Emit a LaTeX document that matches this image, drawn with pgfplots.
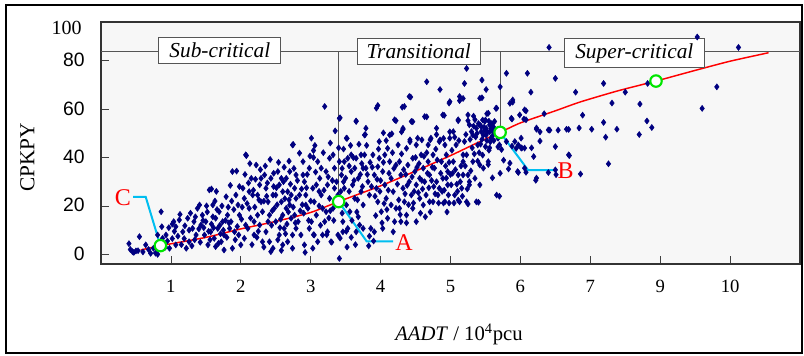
\documentclass[border=0pt]{standalone}
\usepackage{pgfplots}
\pgfplotsset{compat=1.18}
\usepackage{fontspec}
\setmainfont{Liberation Serif}
\newfontfamily\sansf{Liberation Sans}
\definecolor{navyc}{RGB}{0,0,128}
\definecolor{cyanl}{RGB}{0,190,240}
\definecolor{limeg}{RGB}{0,230,0}
\definecolor{bggray}{RGB}{247,247,247}
\definecolor{lgray}{RGB}{85,85,85}
\begin{document}
\begin{tikzpicture}
\useasboundingbox (0,0) rectangle (603pt,266.25pt);
\begin{axis}[
  at={(75.75pt,68.25pt)}, anchor=south west,
  scale only axis, width=524.25pt, height=181.5pt,
  xmin=0, xmax=10, ymin=-4, ymax=96,
  xtick={1,2,3,4,5,6,7,8,9}, xticklabels={1,2,3,4,5,6,7,9,10},
  ytick={0,20,40,60,80}, yticklabels={0,20,40,60,80},
  xtick pos=bottom, ytick pos=left,
  tick align=inside, major tick length=6pt,
  tick style={black!75, line width=0.6pt},
  axis line style={black!80, line width=0.8pt},
  axis background/.style={fill=bggray},
  xticklabel style={font=\fontsize{14}{16}\selectfont, anchor=north, inner sep=0pt, yshift=-12pt},
  yticklabel style={font=\sansf\fontsize{14.5}{16}\selectfont, anchor=east, inner sep=0pt, xshift=-12pt, yshift=0.5pt},
  clip=false,
]
\addplot[only marks, mark=diamond*, mark size=2.25pt, color=navyc] table {
x y
0.45 1.1
0.50 1.4
0.55 7.3
0.64 3.9
0.71 0.4
0.81 0.0
0.86 17.6
0.81 8.0
0.88 6.6
0.42 2.0
0.60 1.0
0.75 2.5
0.40 4.4
0.47 0.8
0.53 1.5
0.68 2.0
0.78 0.5
0.92 3.0
0.87 11.4
1.02 12.5
0.93 8.0
1.04 13.5
1.07 11.4
1.12 14.2
1.17 9.3
1.24 14.9
1.26 5.2
1.31 10.7
1.36 8.0
0.98 2.5
1.07 3.9
1.22 2.5
1.38 19.0
1.26 10.0
1.33 13.5
0.95 5.5
1.02 6.5
1.15 4.0
1.10 7.5
1.20 11.8
1.30 3.5
1.34 6.0
1.05 9.5
0.97 11.0
1.41 20.4
1.45 16.2
1.50 13.5
1.55 26.6
1.57 9.3
1.60 20.4
1.62 6.6
1.64 14.9
1.67 10.7
1.69 17.6
1.72 5.2
1.74 13.5
1.76 8.0
1.79 23.8
1.81 16.2
1.84 10.7
1.48 8.0
1.53 3.9
1.64 3.2
1.76 1.8
1.43 12.1
1.60 15.5
1.47 11.0
1.52 17.5
1.58 12.5
1.66 18.5
1.70 12.0
1.73 20.0
1.78 14.0
1.82 19.5
1.56 6.0
1.68 4.5
1.80 7.0
1.42 5.0
1.63 22.0
1.75 10.0
1.58 27.0
1.94 34.4
2.08 40.8
1.88 34.2
1.93 24.5
1.96 20.4
1.98 16.2
2.03 27.3
2.05 23.1
2.07 41.1
2.07 12.1
2.12 19.0
2.15 31.4
2.17 24.5
2.19 8.0
2.22 36.9
2.24 16.2
2.27 28.7
2.29 21.7
2.31 5.2
1.86 13.5
1.91 9.3
2.00 3.9
2.10 10.7
2.19 13.5
2.24 24.5
2.29 31.4
2.31 17.6
1.98 28.0
2.12 25.9
2.27 12.1
1.88 2.5
2.05 6.6
1.90 18.5
2.01 14.5
2.09 21.0
2.14 15.0
2.20 19.5
2.26 22.5
1.95 11.5
2.11 29.5
2.18 26.5
2.02 19.5
2.25 9.5
2.16 4.0
1.92 6.0
2.33 3.0
2.58 1.6
2.34 32.8
2.36 27.3
2.39 21.7
2.41 16.2
2.43 31.4
2.46 24.5
2.48 19.0
2.50 13.5
2.53 34.2
2.55 28.7
2.58 21.7
2.60 16.2
2.62 10.7
2.65 31.4
2.67 25.9
2.70 20.4
2.72 14.9
2.74 45.2
2.74 8.0
2.77 27.3
2.79 23.1
2.36 9.3
2.41 5.2
2.46 2.5
2.55 8.0
2.60 3.9
2.67 5.2
2.72 24.5
2.79 32.8
2.50 24.5
2.60 25.9
2.70 34.2
2.77 16.2
2.39 13.5
2.58 31.4
2.65 19.0
2.79 10.7
2.43 1.1
2.74 2.5
2.33 22.0
2.38 29.5
2.45 18.0
2.52 20.5
2.57 14.5
2.63 23.0
2.68 17.5
2.75 19.5
2.44 12.0
2.56 11.0
2.66 12.5
2.35 36.5
2.62 36.0
2.42 39.2
2.51 27.5
2.71 29.0
2.78 13.0
2.84 41.8
2.89 38.3
2.91 30.0
2.93 24.5
2.96 19.0
2.98 35.6
3.01 48.0
3.03 27.3
3.05 21.7
3.08 16.2
3.10 38.3
3.13 31.4
3.15 24.5
3.17 19.0
3.20 13.5
3.22 34.2
3.24 28.7
3.27 23.1
2.82 13.5
2.86 8.0
2.91 3.9
2.98 10.7
3.05 8.0
3.10 5.2
3.20 61.1
3.24 9.3
2.89 32.8
3.01 13.5
3.15 35.6
3.22 17.6
3.08 28.7
2.93 20.4
3.27 39.7
2.84 24.5
3.17 8.0
3.03 2.5
2.87 27.0
2.95 33.0
3.00 22.0
3.07 34.0
3.12 20.0
3.19 26.5
3.25 32.0
2.90 17.0
3.04 40.0
3.14 12.0
3.26 15.0
2.97 14.0
2.99 40.6
3.04 42.9
2.75 45.4
2.92 0.8
3.04 8.1
3.23 8.1
3.30 5.0
3.32 41.1
3.34 35.6
3.37 30.0
3.39 24.5
3.41 56.2
3.41 38.3
3.44 32.8
3.46 13.5
3.48 27.3
3.51 48.0
3.51 20.4
3.53 39.7
3.56 17.6
3.58 34.2
3.60 28.7
3.63 23.1
3.65 54.9
3.65 39.7
3.68 31.4
3.70 12.1
3.72 25.9
3.75 35.6
3.29 5.2
3.39 8.0
3.41 -1.7
3.46 9.3
3.53 10.7
3.68 15.5
3.75 20.4
3.32 19.0
3.58 41.1
3.77 49.3
3.34 27.3
3.48 38.3
3.63 35.6
3.72 41.1
3.75 10.7
3.65 9.3
3.31 30.5
3.36 22.0
3.43 26.0
3.47 43.5
3.50 31.5
3.55 26.0
3.57 45.0
3.62 30.5
3.67 22.5
3.71 33.0
3.33 14.0
3.45 17.0
3.59 14.0
3.74 28.0
3.40 44.0
3.66 17.5
3.52 3.0
3.42 6.7
3.51 9.5
3.77 41.1
3.79 35.6
3.82 30.0
3.84 24.5
3.86 10.7
3.89 41.1
3.91 32.8
3.94 60.4
3.94 27.3
3.96 21.7
3.98 39.7
4.01 17.6
4.03 34.2
4.06 28.7
4.08 23.1
4.10 14.9
4.13 49.3
4.13 38.3
4.15 31.4
4.18 25.9
4.20 55.6
4.22 19.0
3.84 7.5
3.91 9.3
4.03 10.7
4.18 9.3
3.79 52.1
3.98 46.6
4.10 43.8
4.22 36.9
3.92 24.0
4.06 41.1
4.20 13.5
3.96 36.2
4.15 20.4
3.80 45.0
3.87 28.0
3.93 16.0
4.00 30.5
4.05 21.0
4.12 33.5
4.17 42.0
3.97 43.5
4.08 47.0
3.85 38.0
4.02 13.0
4.09 18.5
4.28 16.4
4.37 13.0
4.47 21.2
4.25 45.2
4.27 38.3
4.29 32.8
4.32 27.3
4.34 61.1
4.34 21.7
4.37 43.8
4.39 36.9
4.41 30.0
4.44 54.9
4.44 24.5
4.46 39.7
4.49 34.2
4.51 28.7
4.53 48.0
4.56 23.1
4.58 41.1
4.61 35.6
4.63 56.9
4.63 30.0
4.65 24.5
4.68 45.2
4.70 32.8
4.27 19.0
4.37 16.2
4.46 19.0
4.61 20.4
4.70 21.7
4.32 52.1
4.51 45.2
4.68 38.3
4.41 65.2
4.56 31.4
4.29 13.5
4.51 13.5
4.30 41.5
4.36 33.0
4.42 46.5
4.48 26.0
4.55 37.5
4.60 27.0
4.66 42.0
4.40 20.5
4.57 17.0
4.64 15.5
4.35 25.0
4.50 40.0
4.69 27.5
4.72 48.0
4.75 41.1
4.77 35.6
4.80 30.0
4.82 24.5
4.84 46.6
4.87 38.3
4.89 57.6
4.89 31.4
4.92 21.7
4.94 41.1
4.96 34.2
4.99 63.1
4.99 48.0
5.01 28.7
5.04 38.3
5.06 24.5
5.08 45.2
5.11 55.6
5.11 32.8
5.13 65.2
5.16 27.3
5.18 41.1
4.75 21.7
5.11 22.4
5.18 32.8
4.80 52.1
4.92 45.2
5.04 50.7
5.18 38.3
5.13 21.7
4.84 27.3
4.96 28.7
4.74 36.0
4.79 43.5
4.86 33.5
4.91 26.5
4.98 38.0
5.03 33.5
5.09 29.0
5.15 36.5
4.76 28.0
5.02 43.0
5.12 47.0
4.94 31.5
5.20 46.6
5.23 41.1
5.25 32.8
5.27 53.5
5.27 28.7
5.30 50.7
5.32 38.3
5.35 55.6
5.37 52.1
5.39 45.2
5.42 64.5
5.42 36.9
5.44 52.8
5.47 49.3
5.49 54.9
5.51 52.1
5.54 58.3
5.56 53.5
5.58 48.0
5.61 50.7
5.63 54.9
5.66 60.4
5.23 21.7
5.37 21.7
5.27 30.0
5.35 31.4
5.47 35.6
5.54 38.3
5.42 28.7
5.66 24.5
5.25 57.6
5.32 49.3
5.44 50.7
5.49 51.4
5.56 50.7
5.58 52.1
5.42 53.5
5.51 49.3
5.61 52.8
5.38 50.0
5.40 54.0
5.45 47.5
5.48 52.5
5.50 55.5
5.52 47.0
5.53 50.5
5.55 55.0
5.57 46.5
5.59 54.0
5.60 49.0
5.62 47.0
5.64 51.5
5.46 55.5
5.36 48.5
5.33 53.0
5.28 47.5
5.22 49.5
5.41 42.0
5.55 43.0
5.50 44.5
5.68 48.0
5.70 45.2
5.75 49.3
5.80 46.6
5.85 62.4
5.87 56.2
5.89 63.8
5.92 46.6
5.94 43.8
5.96 34.2
6.01 48.0
6.06 35.6
6.06 59.7
6.08 55.6
5.99 57.6
5.23 76.8
4.66 71.3
5.20 70.6
5.45 72.0
4.85 68.1
5.51 68.1
5.80 74.8
6.10 74.8
6.50 72.7
6.15 67.0
6.79 67.0
6.41 85.5
4.43 65.0
5.13 63.5
5.18 64.4
5.45 64.7
5.71 69.2
4.98 62.5
4.31 60.8
3.96 61.5
5.89 62.9
6.08 59.3
5.65 60.3
5.52 58.1
5.33 57.1
4.91 57.4
4.66 56.8
4.22 55.2
4.46 54.8
5.11 55.2
5.25 55.2
3.65 55.1
3.42 56.4
5.88 55.9
6.05 55.9
6.34 58.1
4.32 51.6
4.30 50.6
4.04 50.2
4.16 49.8
3.78 49.5
3.52 47.9
4.80 49.5
4.90 47.9
4.99 50.6
5.06 48.4
6.23 51.7
6.28 50.6
6.42 51.3
6.54 51.3
6.69 51.6
6.28 46.8
6.84 52.2
4.42 47.3
4.59 47.3
4.71 47.3
4.85 47.3
8.53 89.8
9.12 85.5
7.19 70.6
7.50 67.0
7.82 70.6
8.81 69.2
7.31 62.5
7.71 62.1
8.60 60.3
6.89 57.5
7.19 54.5
7.02 51.7
7.38 51.7
7.81 55.1
7.88 52.4
7.22 48.4
7.70 49.5
7.26 37.4
6.86 33.2
6.69 41.1
6.50 44.5
6.40 51.4
6.66 51.7
6.23 52.2
5.97 45.2
6.02 43.9
6.06 43.9
6.19 40.4
5.85 37.7
5.97 33.8
6.50 34.9
6.40 33.8
6.23 31.5
5.71 33.5
5.56 44.0
5.68 44.4
5.73 43.3
5.88 44.7
6.01 44.0
6.16 44.0
6.70 40.8
5.76 38.9
5.54 37.1
5.83 35.3
6.08 33.9
6.22 30.6
6.51 32.9
5.60 31.6
5.70 24.0
5.40 21.5
5.25 20.8
4.83 21.2
4.90 21.2
4.98 21.2
5.05 21.2
1.13 16.5
1.28 17.0
1.35 15.5
1.46 14.0
1.54 9.5
1.61 11.0
1.71 8.5
1.83 13.0
1.87 22.0
1.97 8.0
1.19 6.5
1.40 10.5
1.51 20.0
1.65 26.0
1.85 28.5
2.06 33.0
2.13 37.5
2.21 31.0
2.28 35.0
2.37 24.0
2.47 33.5
2.54 38.0
2.61 30.0
2.69 38.5
2.76 35.5
2.81 30.5
2.88 20.5
2.94 27.5
2.23 7.0
2.53 6.0
2.64 8.5
2.85 18.0
2.47 28.0
2.69 22.5
3.06 45.0
3.18 42.0
3.28 46.0
3.35 51.0
3.45 35.5
3.55 36.5
3.61 40.0
3.69 45.5
3.73 37.5
3.81 33.0
3.88 36.0
3.95 31.0
3.99 26.0
3.83 3.5
3.58 7.0
3.64 4.0
3.90 5.5
3.47 30.0
3.28 18.0
3.12 26.0
4.04 38.0
4.11 26.5
4.19 35.5
4.24 29.0
4.26 22.5
4.33 35.0
4.38 28.5
4.45 32.0
4.52 36.0
4.59 30.5
4.62 40.5
4.67 33.5
4.73 30.5
4.78 25.0
4.81 39.0
4.88 26.0
4.93 36.5
4.97 24.5
5.00 33.0
5.07 35.0
5.10 26.0
5.14 30.0
5.17 24.0
5.21 36.5
5.24 27.0
5.29 34.5
5.31 44.0
5.34 41.5
5.39 38.5
5.43 45.5
5.46 41.0
4.54 25.5
4.71 17.5
4.95 17.5
};
\addplot[red, line width=1.1pt, smooth, tension=0.4] coordinates {
(0.57,1.8) (0.84,3.5) (1.5,7.0) (2.0,10.5) (2.5,13.6) (3.0,17.3) (3.4,21.8)
(4.0,28.3) (4.5,34.4) (5.0,40.8) (5.4,46.3) (5.71,50.4) (6.0,54.3) (6.5,59.3)
(6.86,63.0) (7.4,67.6) (7.94,71.6) (8.5,76.0) (9.0,79.8) (9.55,83.3)};
\addplot[lgray, line width=0.7pt] coordinates {(0,83.7) (10,83.7)};
\addplot[lgray, line width=0.7pt] coordinates {(3.40,83.7) (3.40,21.8)};
\addplot[lgray, line width=0.7pt] coordinates {(5.71,83.7) (5.71,50.4)};
\node[draw=lgray, fill=white, line width=0.7pt, font=\itshape\fontsize{16}{18}\selectfont, minimum height=19.5pt, inner xsep=8pt] at (axis cs:1.70,84.4) {Sub-critical};
\node[draw=lgray, fill=white, line width=0.7pt, font=\itshape\fontsize{16}{18}\selectfont, minimum height=19.5pt, inner xsep=7pt] at (axis cs:4.545,84.0) {Transitional};
\node[draw=lgray, fill=white, line width=0.7pt, font=\itshape\fontsize{16}{18}\selectfont, minimum height=20.5pt, inner xsep=8pt] at (axis cs:7.63,83.2) {Super-critical};
\addplot[cyanl, line width=1.5pt] coordinates {(0.46,23.7) (0.64,23.7) (0.85,3.6)};
\addplot[cyanl, line width=1.5pt] coordinates {(3.40,21.8) (3.80,5.4) (4.18,5.4)};
\addplot[cyanl, line width=1.5pt] coordinates {(5.71,50.4) (6.11,34.8) (6.50,34.8)};
\addplot[only marks, mark=*, mark size=4.3pt, mark options={fill=white, draw=limeg, line width=1.6pt}] coordinates {(0.85,3.6) (3.40,21.8) (5.71,50.4) (7.94,71.6)};
\node[red, anchor=east, inner sep=1.5pt, font=\fontsize{18}{20}\selectfont] at (axis cs:0.46,23.4) {C};
\node[red, anchor=west, inner sep=1.5pt, font=\fontsize{18}{20}\selectfont] at (axis cs:4.18,5.0) {A};
\node[red, anchor=west, inner sep=1.5pt, font=\fontsize{18}{20}\selectfont] at (axis cs:6.50,34.4) {B};
\end{axis}
\node[anchor=east, inner sep=0pt, font=\fontsize{15}{17}\selectfont] at (61.5pt,245.25pt) {100};
\node[rotate=90, inner sep=0pt, font=\fontsize{16}{18}\selectfont] at (20.6pt,148.1pt) {CPKPY};
\node[anchor=base west, inner sep=0pt, font=\fontsize{15.5}{18}\selectfont] at (296.25pt,11.25pt) {\textit{AADT} / 10\textsuperscript{4}pcu};
\draw[line width=1.5pt] (4.5pt,1.5pt) rectangle (601.5pt,262.5pt);
\end{tikzpicture}
\end{document}
